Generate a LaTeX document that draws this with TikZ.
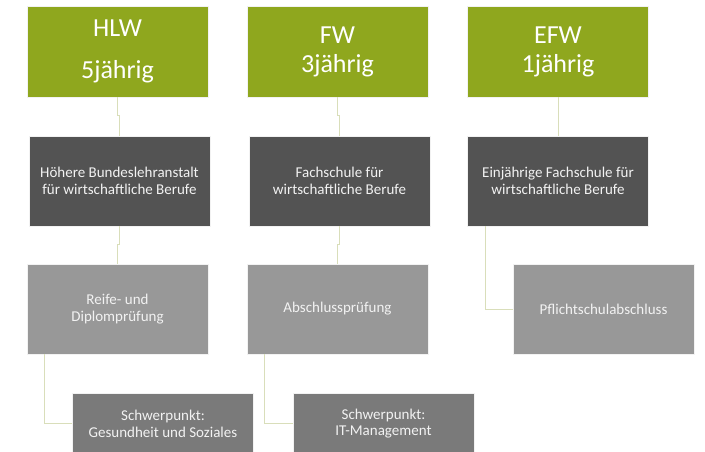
\documentclass[tikz,border=0pt]{standalone}
\usepackage{fontspec}
\setmainfont{Carlito}
\usetikzlibrary{calc}
\definecolor{hdrgreen}{RGB}{143,167,30}
\definecolor{darkbox}{RGB}{83,83,83}
\definecolor{lightbox}{RGB}{152,152,152}
\definecolor{midbox}{RGB}{122,122,122}
\definecolor{linkcol}{RGB}{217,222,186}
\tikzset{
	box/.style={draw=white!90!gray, line width=0.8pt, inner sep=0pt, align=center,
		minimum width=181pt, minimum height=90pt, text=white!95!black,
		font=\fontsize{15}{16.8}\selectfont},
	headbox/.style={box, fill=hdrgreen, minimum height=91pt, text=white,
		font=\fontsize{26}{29}\selectfont},
	schoolbox/.style={box, fill=darkbox},
	exambox/.style={box, fill=lightbox},
	focusbox/.style={box, fill=midbox, minimum height=61pt,
		font=\fontsize{15}{16.8}\selectfont},
	link/.style={draw=linkcol, line width=0.9pt}
}

\begin{document}
\begin{tikzpicture}[x=1pt, y=-1pt]
			%%%%% START %%%%%
			\useasboundingbox[fill=white] (0, 0) rectangle (705, 452);
			
			% Kopfzeile
			\node[headbox] (hlw) at (117.5, 51.5) {HLW\\[13pt]5jährig};
			\node[headbox] (fw) at (337.5, 51.5) {FW\\3jährig};
			\node[headbox] (efw) at (558, 51.5) {EFW\\1jährig};
			
			% Schulform
			\node[schoolbox] (hlwd) at (119.5, 181) {Höhere Bundeslehranstalt\\für wirtschaftliche Berufe};
			\node[schoolbox] (fwd) at (339.5, 181) {Fachschule für\\wirtschaftliche Berufe};
			\node[schoolbox] (efwd) at (558, 181) {Einjährige Fachschule für\\wirtschaftliche Berufe};
			
			% Abschluss
			\node[exambox] (rdp) at (117.5, 309) {Reife- und\\Diplomprüfung};
			\node[exambox] (abp) at (337.5, 309) {Abschlussprüfung};
			\node[exambox] (psa) at (603.5, 309) {Pflichtschulabschluss};
			
			% Schwerpunkte
			\node[focusbox] (sgs) at (163, 423.5) {Schwerpunkt:\\Gesundheit und Soziales};
			\node[focusbox] (sit) at (383.5, 423.5) {Schwerpunkt:\\IT-Management};
			
			% Verbindungen
			\draw[link] (hlw.south) -- ++(0, 18) -| (hlwd.north);
			\draw[link] (hlwd.south) -- ++(0, 18) -| (rdp.north);
			\draw[link] (fw.south) -- ++(0, 18) -| (fwd.north);
			\draw[link] (fwd.south) -- ++(0, 18) -| (abp.north);
			\draw[link] (efw.south) -- (efwd.north);
			
			\draw[link] ($(rdp.south west)!0.1!(rdp.south east)$) |- (sgs.west);
			\draw[link] ($(abp.south west)!0.1!(abp.south east)$) |- (sit.west);
			\draw[link] ($(efwd.south west)!0.1!(efwd.south east)$) |- (psa.west);
			
			%%%%% END %%%%%
\end{tikzpicture}
\end{document}
